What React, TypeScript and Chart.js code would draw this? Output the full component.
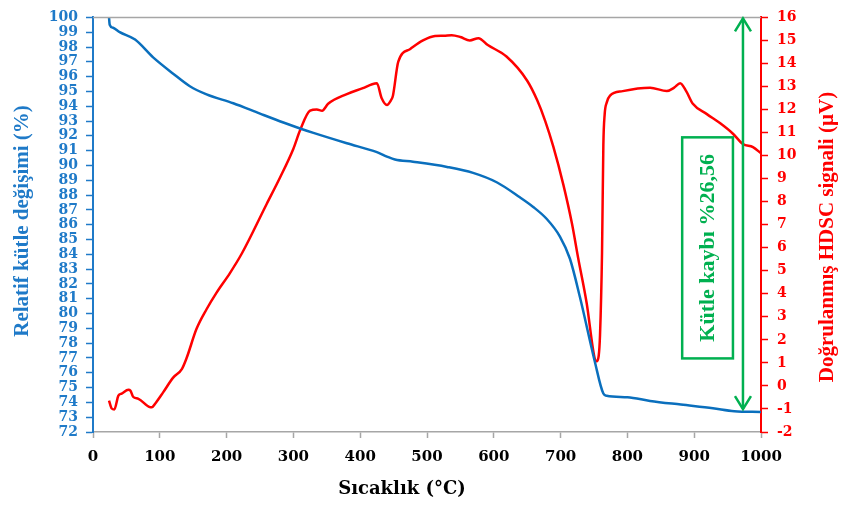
import React, { useEffect, useRef } from "react";
import { Chart, registerables } from "chart.js";

Chart.register(...registerables);

// ---- Data ----
const tgTemp = [24, 25, 30, 40, 63, 90, 120, 145, 170, 210, 250, 285, 310, 330, 380, 425, 440, 452, 479, 530, 569, 605, 639, 659, 679, 699, 714, 729, 751, 764, 769, 800, 834, 880, 928, 960, 1000];
const tgMass = [100, 99.5, 99.3, 99.0, 98.5, 97.3, 96.2, 95.35, 94.8, 94.2, 93.5, 92.9, 92.5, 92.2, 91.5, 90.9, 90.6, 90.4, 90.25, 89.9, 89.5, 88.85, 87.85, 87.2, 86.4, 85.2, 83.7, 81.1, 76.8, 74.6, 74.45, 74.35, 74.1, 73.85, 73.6, 73.4, 73.35];

const dscTemp = [24, 28, 32, 38, 43, 53, 56, 60, 68, 85, 88, 93, 105, 120, 133, 140, 155, 170, 185, 205, 223, 260, 280, 300, 310, 325, 335, 343, 352, 380, 404, 418, 425, 432, 440, 446, 449, 457, 475, 494, 512, 525, 537, 550, 564, 577, 591, 619, 650, 665, 677, 689, 704, 717, 726, 739, 751, 754, 757, 759, 762, 764, 766, 769, 774, 793, 834, 859, 870, 879, 888, 898, 919, 939, 958, 973, 988, 1000];
const dscSignal = [-0.64, -0.98, -1.02, -0.42, -0.33, -0.17, -0.2, -0.47, -0.56, -0.92, -0.93, -0.77, -0.28, 0.36, 0.73, 1.2, 2.48, 3.33, 4.05, 4.9, 5.76, 7.9, 9.05, 10.3, 11.1, 11.95, 12.0, 11.95, 12.25, 12.67, 12.93, 13.1, 13.14, 12.5, 12.2, 12.4, 12.6, 14.08, 14.63, 15.0, 15.19, 15.2, 15.23, 15.15, 15.0, 15.1, 14.8, 14.3, 13.25, 12.4, 11.5, 10.4, 8.75, 7.05, 5.6, 3.6, 1.2, 1.07, 1.3, 2.2, 5.76, 10.45, 11.8, 12.3, 12.6, 12.8, 12.95, 12.8, 12.95, 13.14, 12.8, 12.25, 11.8, 11.4, 10.95, 10.5, 10.37, 10.1];

const xRange = [0, 1000];
const leftRange = [72, 100];
const rightRange = [-2, 16];

// annotation (in data units)
const arrowX = 973;
const arrowTop = 100;
const arrowBottom = 73.55;
const boxX = [882, 958];
const boxY = [91.9, 76.97];
const boxText = "Kütle kaybı %26,56";

const xTitle = "Sıcaklık (°C)";
const leftTitle = "Relatif kütle değişimi (%)";
const rightTitle = "Doğrulanmış HDSC signali (µV)";

const BLUE_LINE = "#0a6fbd";
const BLUE_TEXT = "#1f7ac8";
const RED = "#ff0000";
const GREEN = "#00b050";
const GRAY = "#a6a6a6";

const overlay = {
  id: "overlay",
  afterDraw(chart: any) {
    const { ctx, chartArea: a, scales } = chart;
    const x = scales.x, yl = scales.y;
    ctx.save();
    // top border
    ctx.strokeStyle = GRAY;
    ctx.lineWidth = 1.5;
    ctx.beginPath();
    ctx.moveTo(a.left, a.top);
    ctx.lineTo(a.right, a.top);
    ctx.stroke();

    // arrow
    const ax = x.getPixelForValue(arrowX);
    const ay1 = yl.getPixelForValue(arrowTop);
    const ay2 = yl.getPixelForValue(arrowBottom);
    ctx.strokeStyle = GREEN;
    ctx.lineWidth = 2.5;
    ctx.beginPath();
    ctx.moveTo(ax, ay1 + 1);
    ctx.lineTo(ax, ay2);
    ctx.stroke();
    ctx.beginPath();
    ctx.moveTo(ax - 8, ay1 + 14);
    ctx.lineTo(ax, ay1 + 1);
    ctx.lineTo(ax + 8, ay1 + 14);
    ctx.stroke();
    ctx.beginPath();
    ctx.moveTo(ax - 8, ay2 - 13);
    ctx.lineTo(ax, ay2);
    ctx.lineTo(ax + 8, ay2 - 13);
    ctx.stroke();

    // box
    const bx0 = x.getPixelForValue(boxX[0]);
    const bx1 = x.getPixelForValue(boxX[1]);
    const by0 = yl.getPixelForValue(boxY[0]);
    const by1 = yl.getPixelForValue(boxY[1]);
    ctx.fillStyle = "#ffffff";
    ctx.fillRect(bx0, by0, bx1 - bx0, by1 - by0);
    ctx.strokeRect(bx0, by0, bx1 - bx0, by1 - by0);
    ctx.save();
    ctx.translate((bx0 + bx1) / 2, (by0 + by1) / 2);
    ctx.rotate(-Math.PI / 2);
    ctx.fillStyle = GREEN;
    ctx.font = "bold 22px 'Liberation Serif'";
    ctx.textAlign = "center";
    ctx.textBaseline = "middle";
    ctx.fillText(boxText, 0, 1);
    ctx.restore();

    // axis titles
    ctx.save();
    ctx.translate(23, 221);
    ctx.rotate(-Math.PI / 2);
    ctx.fillStyle = BLUE_TEXT;
    ctx.font = "bold 21px 'Liberation Serif'";
    ctx.textAlign = "center";
    ctx.textBaseline = "middle";
    ctx.fillText(leftTitle, 0, 0);
    ctx.restore();

    ctx.save();
    ctx.translate(828, 237);
    ctx.rotate(-Math.PI / 2);
    ctx.fillStyle = RED;
    ctx.font = "bold 21px 'Liberation Serif'";
    ctx.textAlign = "center";
    ctx.textBaseline = "middle";
    ctx.fillText(rightTitle, 0, 0);
    ctx.restore();

    ctx.fillStyle = "#000000";
    ctx.font = "bold 18px 'DejaVu Serif'";
    ctx.textAlign = "center";
    ctx.textBaseline = "middle";
    ctx.fillText(xTitle, 402, 489);
    ctx.restore();
  },
};

export default function App() {
  const ref = useRef<HTMLCanvasElement>(null);
  useEffect(() => {
    if (!ref.current) return;
    const chart = new Chart(ref.current, {
      type: "line",
      data: {
        datasets: [
          {
            label: "TG",
            data: tgTemp.map((t, i) => ({ x: t, y: tgMass[i] })),
            borderColor: BLUE_LINE,
            borderWidth: 2.5,
            pointRadius: 0,
            cubicInterpolationMode: "monotone",
            yAxisID: "y",
          },
          {
            label: "DSC",
            data: dscTemp.map((t, i) => ({ x: t, y: dscSignal[i] })),
            borderColor: RED,
            borderWidth: 2.5,
            pointRadius: 0,
            cubicInterpolationMode: "monotone",
            yAxisID: "y1",
          },
        ],
      },
      options: {
        animation: false,
        responsive: true,
        maintainAspectRatio: false,
        layout: { padding: { top: 10, left: 0, right: 0, bottom: 0 } },
        plugins: { legend: { display: false }, tooltip: { enabled: false } },
        scales: {
          x: {
            type: "linear",
            min: xRange[0],
            max: xRange[1],
            ticks: {
              stepSize: 100,
              color: "#000000",
              padding: 10,
              font: { family: "'DejaVu Serif'", weight: "bold", size: 15 },
              maxRotation: 0,
              callback: (v: any) => String(v),
            },
            grid: { drawOnChartArea: false, tickLength: 6, tickColor: GRAY, tickWidth: 1.5 },
            border: { color: GRAY, width: 1.5 },
            afterFit: (s: any) => { s.height = 78; },
          },
          y: {
            type: "linear",
            position: "left",
            min: leftRange[0],
            max: leftRange[1],
            ticks: {
              stepSize: 1,
              autoSkip: false,
              color: BLUE_TEXT,
              padding: 8,
              font: { family: "'DejaVu Serif'", weight: "bold", size: 14 },
            },
            grid: { drawOnChartArea: false, tickLength: 7, tickColor: BLUE_TEXT, tickWidth: 1.5 },
            border: { color: BLUE_TEXT, width: 2 },
            afterFit: (s: any) => { s.width = 93; },
          },
          y1: {
            type: "linear",
            position: "right",
            min: rightRange[0],
            max: rightRange[1],
            ticks: {
              stepSize: 1,
              autoSkip: false,
              color: RED,
              padding: 9,
              font: { family: "'DejaVu Serif'", weight: "bold", size: 14 },
            },
            grid: { drawOnChartArea: false, tickLength: 7, tickColor: RED, tickWidth: 1.5 },
            border: { color: RED, width: 2 },
            afterFit: (s: any) => { s.width = 82; },
          },
        },
      },
      plugins: [overlay],
    } as any);
    return () => chart.destroy();
  }, []);
  return (
    <div style={{ position: "absolute", left: 0, top: 0, width: 843, height: 510, background: "#fff" }}>
      <canvas ref={ref} />
    </div>
  );
}
